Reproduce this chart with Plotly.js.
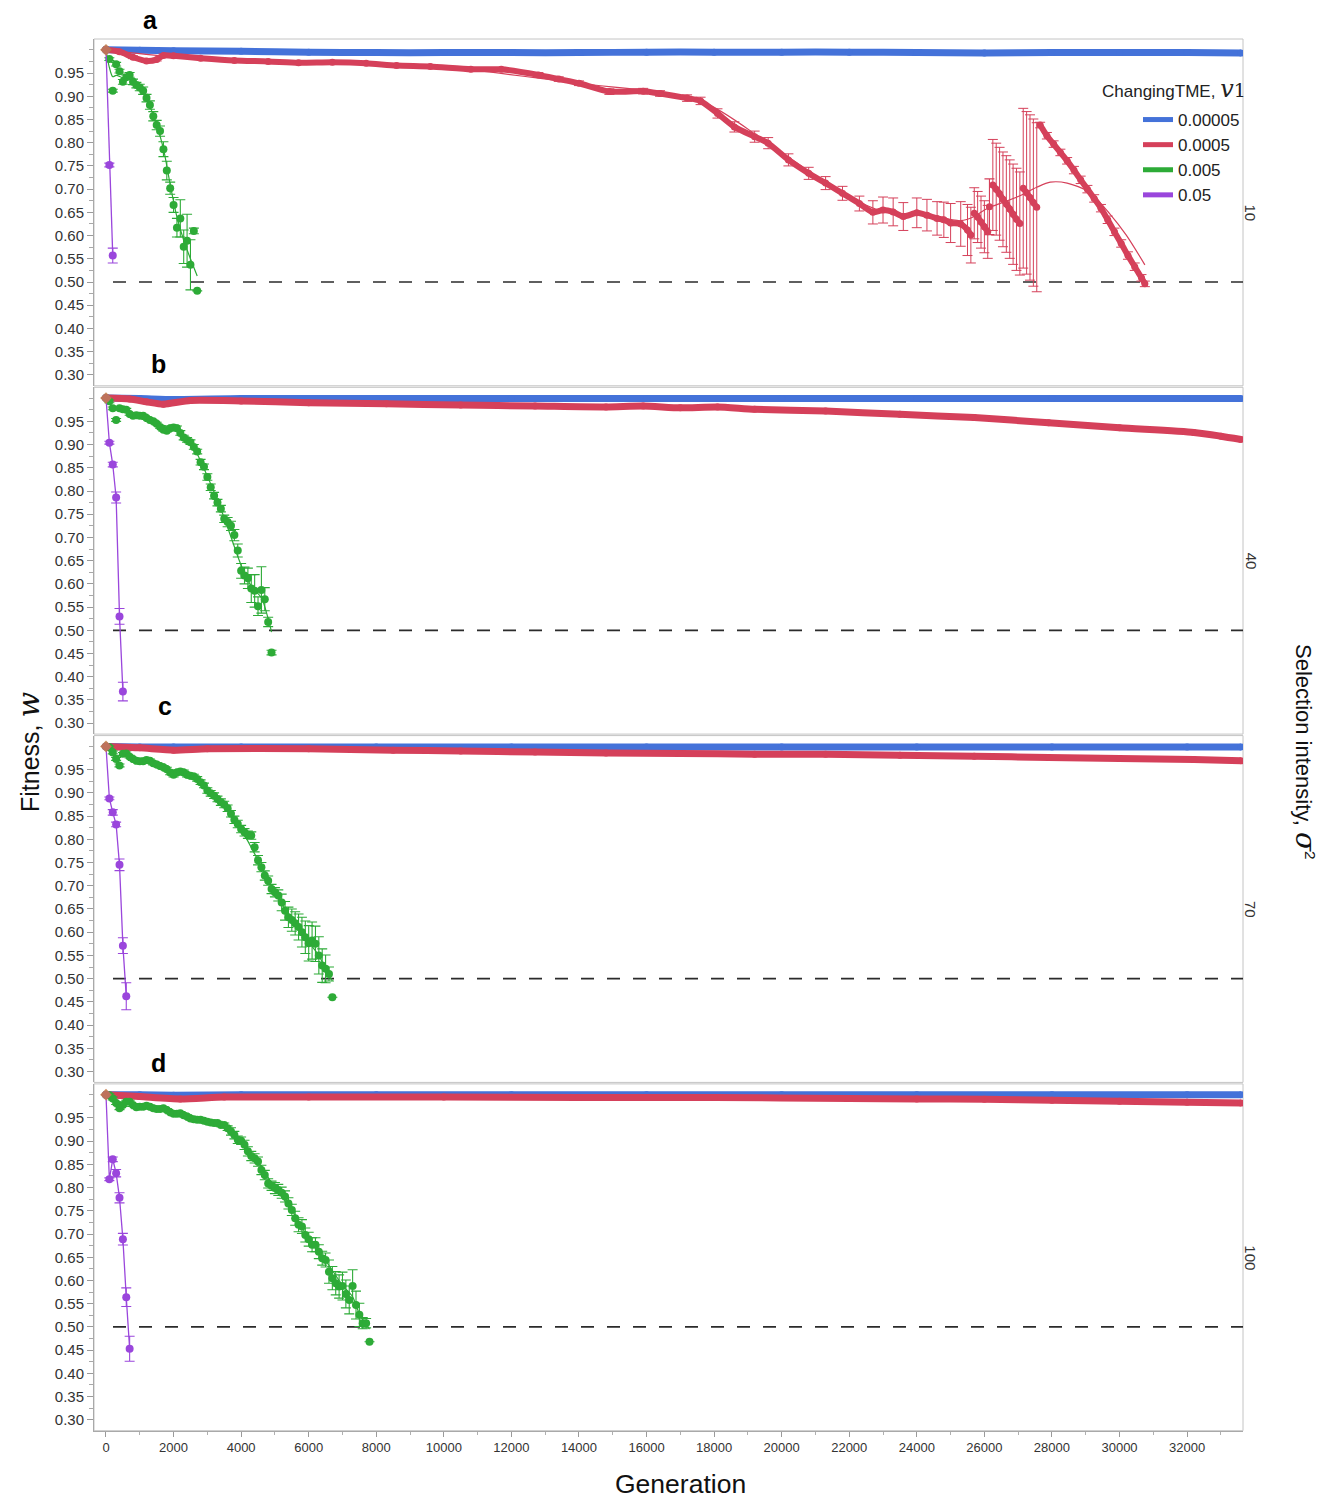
<!DOCTYPE html>
<html>
<head>
<meta charset="utf-8">
<script src="https://cdn.plot.ly/plotly-3.0.1.min.js"></script>
<style>
html, body { margin: 0; padding: 0; background: #ffffff; }
#chart { width: 1339px; height: 1501px; }
</style>
</head>
<body>
<div id="chart"></div>
<script>
// ---------- Fitness trajectories, four selection intensities (σ² = 10, 40, 70, 100) ----------

const LEGEND_LABELS = ['0.00005', '0.0005', '0.005', '0.05'];
const FACET_LABELS = ['10', '40', '70', '100'];
const PANEL_LETTERS = ['a', 'b', 'c', 'd'];
const Y_TICKS = [0.30, 0.35, 0.40, 0.45, 0.50, 0.55, 0.60, 0.65, 0.70, 0.75, 0.80, 0.85, 0.90, 0.95];
const Y_TICK_TEXT = ['0.30', '0.35', '0.40', '0.45', '0.50', '0.55', '0.60', '0.65', '0.70', '0.75', '0.80', '0.85', '0.90', '0.95'];
const THRESHOLD = 0.5;

// common starting state of every run
const START_GEN = [0];
const START_VAL = [1.0];

// ----- panel a (σ² = 10) -----
const A_BLUE_GEN = [0, 1000, 2000, 4000, 6000, 8000, 10000, 12000, 14000, 16000, 18000, 20000, 22000, 24000, 26000, 28000, 30000, 32000, 33600];
const A_BLUE_VAL = [1.000, 0.999, 0.998, 0.997, 0.995, 0.994, 0.994, 0.994, 0.994, 0.995, 0.995, 0.995, 0.995, 0.994, 0.993, 0.994, 0.994, 0.994, 0.993];

const A_RED_GEN = [0, 400, 800, 1200, 1500, 1700, 2000, 2800, 3800, 4800, 5700, 6700, 7700, 8600, 9600, 10800, 11700, 12800, 13400, 14000, 14900, 15900, 16400, 17200, 17600, 18100, 18600, 19200, 19600, 20200, 20800, 21300, 21800, 22300, 22700, 23000, 23300, 23600, 24000, 24300, 24600, 24800, 25000, 25300, 25500, 25600];
const A_RED_VAL = [1.000, 0.996, 0.984, 0.976, 0.979, 0.988, 0.987, 0.982, 0.977, 0.975, 0.972, 0.973, 0.971, 0.966, 0.964, 0.958, 0.958, 0.946, 0.937, 0.928, 0.910, 0.911, 0.906, 0.896, 0.890, 0.863, 0.834, 0.813, 0.799, 0.763, 0.734, 0.713, 0.691, 0.669, 0.650, 0.655, 0.651, 0.641, 0.649, 0.644, 0.637, 0.634, 0.627, 0.625, 0.612, 0.601];
const A_RED_ERR = [0, 0.002, 0.003, 0.003, 0.003, 0.003, 0.003, 0.003, 0.003, 0.003, 0.003, 0.003, 0.003, 0.003, 0.004, 0.004, 0.004, 0.005, 0.005, 0.005, 0.006, 0.006, 0.006, 0.007, 0.008, 0.010, 0.011, 0.012, 0.012, 0.013, 0.013, 0.014, 0.015, 0.016, 0.025, 0.028, 0.030, 0.030, 0.032, 0.034, 0.036, 0.038, 0.042, 0.048, 0.055, 0.060];

const A_RED_S2_GEN = [25700, 25800, 25900, 26000, 26100];
const A_RED_S2_VAL = [0.648, 0.640, 0.629, 0.619, 0.608];
const A_RED_S2_ERR = [0.055, 0.055, 0.056, 0.056, 0.057];
const A_RED_DOT_GEN = [26150];
const A_RED_DOT_VAL = [0.662];
const A_RED_DOT_ERR = [0.060];
const A_RED_S3_GEN = [26250, 26350, 26450, 26550, 26650, 26750, 26850, 26950, 27050];
const A_RED_S3_VAL = [0.709, 0.700, 0.690, 0.678, 0.668, 0.657, 0.646, 0.635, 0.626];
const A_RED_S3_ERR = [0.098, 0.099, 0.100, 0.102, 0.104, 0.106, 0.108, 0.110, 0.111];
const A_RED_S4_GEN = [27150, 27250, 27350, 27450, 27550];
const A_RED_S4_VAL = [0.702, 0.692, 0.682, 0.671, 0.661];
const A_RED_S4_ERR = [0.172, 0.175, 0.178, 0.180, 0.182];
const A_RED_S5_GEN = [27650, 27850, 28050, 28250, 28450, 28650, 28850, 29050, 29250, 29450, 29650, 29850, 30050, 30250, 30450, 30650, 30750];
const A_RED_S5_VAL = [0.838, 0.815, 0.797, 0.779, 0.761, 0.741, 0.720, 0.700, 0.680, 0.659, 0.634, 0.608, 0.583, 0.557, 0.533, 0.509, 0.496];
const A_RED_S5_ERR = [0.006, 0.007, 0.007, 0.007, 0.007, 0.008, 0.008, 0.008, 0.008, 0.008, 0.008, 0.008, 0.008, 0.008, 0.008, 0.007, 0.006];

const A_RED_FIT_GEN = [0, 2000, 6000, 10000, 14000, 17600, 19600, 21800, 23000, 24300, 25300, 25700, 26000, 26200, 27000, 27550, 27950, 28450, 29100, 29700, 30200, 30750];
const A_RED_FIT_VAL = [1.000, 0.985, 0.973, 0.962, 0.928, 0.890, 0.799, 0.691, 0.652, 0.644, 0.632, 0.641, 0.655, 0.662, 0.684, 0.704, 0.715, 0.713, 0.694, 0.648, 0.601, 0.537];

const A_GREEN_GEN = [0, 100, 200, 300, 400, 500, 600, 700, 800, 900, 1000, 1100, 1200, 1300, 1400, 1500, 1600, 1700, 1800, 1900, 2000, 2100, 2200, 2300, 2400, 2500, 2600, 2700];
const A_GREEN_VAL = [1.000, 0.980, 0.912, 0.969, 0.954, 0.931, 0.941, 0.946, 0.931, 0.924, 0.919, 0.912, 0.896, 0.881, 0.857, 0.838, 0.825, 0.786, 0.740, 0.702, 0.666, 0.617, 0.637, 0.576, 0.589, 0.537, 0.610, 0.481];
const A_GREEN_ERR = [0, 0.003, 0.003, 0.004, 0.004, 0.005, 0.005, 0.005, 0.006, 0.006, 0.007, 0.008, 0.008, 0.009, 0.010, 0.010, 0.011, 0.016, 0.020, 0.013, 0.016, 0.020, 0.040, 0.036, 0.057, 0.054, 0.006, 0];
const A_GREEN_FIT_GEN = [0, 100, 200, 300, 500, 700, 900, 1100, 1300, 1500, 1700, 1900, 2100, 2300, 2500, 2700];
const A_GREEN_FIT_VAL = [1.000, 0.962, 0.942, 0.945, 0.940, 0.937, 0.925, 0.908, 0.878, 0.838, 0.787, 0.710, 0.640, 0.590, 0.550, 0.513];

const A_PURPLE_GEN = [0, 100, 200];
const A_PURPLE_VAL = [1.000, 0.752, 0.557];
const A_PURPLE_ERR = [0, 0.004, 0.016];

// ----- panel b (σ² = 40) -----
const B_BLUE_GEN = [0, 1000, 2000, 4000, 8000, 12000, 16000, 20000, 24000, 28000, 32000, 33600];
const B_BLUE_VAL = [1.000, 0.999, 0.997, 0.999, 0.999, 0.999, 0.999, 0.999, 0.999, 0.999, 0.999, 0.999];

const B_RED_GEN = [0, 700, 1200, 1700, 2500, 4000, 6000, 8300, 10500, 12700, 14800, 15900, 17000, 18100, 19200, 21300, 23500, 25700, 27900, 30000, 32200, 33000, 33600];
const B_RED_VAL = [1.000, 0.998, 0.992, 0.987, 0.995, 0.994, 0.990, 0.988, 0.985, 0.983, 0.981, 0.983, 0.979, 0.981, 0.976, 0.972, 0.965, 0.958, 0.947, 0.936, 0.926, 0.918, 0.911];

const B_GREEN_GEN = [0, 100, 200, 300, 400, 500, 600, 700, 800, 900, 1000, 1100, 1200, 1300, 1400, 1500, 1600, 1700, 1800, 1900, 2000, 2100, 2200, 2300, 2400, 2500, 2600, 2700, 2800, 2900, 3000, 3100, 3200, 3300, 3400, 3500, 3600, 3700, 3800, 3900, 4000, 4100, 4200, 4300, 4400, 4500, 4600, 4700, 4800, 4900];
const B_GREEN_VAL = [1.000, 0.993, 0.978, 0.953, 0.978, 0.976, 0.975, 0.966, 0.962, 0.963, 0.962, 0.962, 0.957, 0.953, 0.950, 0.945, 0.938, 0.932, 0.930, 0.935, 0.937, 0.935, 0.925, 0.915, 0.910, 0.905, 0.895, 0.885, 0.862, 0.852, 0.830, 0.808, 0.790, 0.775, 0.762, 0.740, 0.733, 0.725, 0.705, 0.672, 0.628, 0.618, 0.612, 0.590, 0.585, 0.552, 0.587, 0.567, 0.518, 0.452];
const B_GREEN_ERR = [0, 0.003, 0.003, 0.003, 0.003, 0.003, 0.003, 0.003, 0.003, 0.003, 0.003, 0.003, 0.003, 0.003, 0.003, 0.003, 0.003, 0.003, 0.003, 0.003, 0.005, 0.005, 0.005, 0.005, 0.005, 0.005, 0.005, 0.005, 0.006, 0.006, 0.007, 0.007, 0.007, 0.007, 0.007, 0.008, 0.010, 0.010, 0.012, 0.014, 0.016, 0.018, 0.022, 0.030, 0.035, 0.020, 0.050, 0.025, 0.010, 0.005];
const B_GREEN_FIT_GEN = [0, 200, 500, 1000, 1500, 2000, 2500, 3000, 3500, 4000, 4300, 4600, 4800, 4900];
const B_GREEN_FIT_VAL = [1.000, 0.982, 0.975, 0.962, 0.945, 0.935, 0.905, 0.832, 0.742, 0.640, 0.595, 0.570, 0.525, 0.496];

const B_PURPLE_GEN = [0, 100, 200, 300, 400, 500];
const B_PURPLE_VAL = [1.000, 0.904, 0.857, 0.786, 0.530, 0.368];
const B_PURPLE_ERR = [0, 0.003, 0.005, 0.012, 0.017, 0.020];

// ----- panel c (σ² = 70) -----
const C_BLUE_GEN = [0, 1000, 2000, 4000, 8000, 12000, 16000, 20000, 24000, 28000, 32000, 33600];
const C_BLUE_VAL = [1.000, 0.999, 0.999, 0.999, 0.999, 0.999, 0.999, 0.999, 0.999, 0.999, 0.999, 0.999];

const C_RED_GEN = [0, 1000, 2000, 3000, 6000, 8500, 10500, 12700, 14800, 17000, 19200, 21300, 23500, 25700, 27900, 30000, 32200, 33600];
const C_RED_VAL = [1.000, 0.997, 0.992, 0.995, 0.995, 0.992, 0.990, 0.988, 0.986, 0.985, 0.983, 0.983, 0.981, 0.979, 0.976, 0.974, 0.972, 0.969];

const C_GREEN_GEN = [0, 100, 200, 300, 400, 500, 600, 700, 800, 900, 1000, 1100, 1200, 1300, 1400, 1500, 1600, 1700, 1800, 1900, 2000, 2100, 2200, 2300, 2400, 2500, 2600, 2700, 2800, 2900, 3000, 3100, 3200, 3300, 3400, 3500, 3600, 3700, 3800, 3900, 4000, 4100, 4200, 4300, 4400, 4500, 4600, 4700, 4800, 4900, 5000, 5100, 5200, 5300, 5400, 5500, 5600, 5700, 5800, 5900, 6000, 6100, 6200, 6300, 6400, 6500, 6600, 6700];
const C_GREEN_VAL = [1.000, 0.998, 0.987, 0.973, 0.959, 0.984, 0.985, 0.978, 0.973, 0.969, 0.968, 0.968, 0.971, 0.969, 0.964, 0.961, 0.958, 0.955, 0.951, 0.944, 0.939, 0.944, 0.946, 0.944, 0.939, 0.937, 0.935, 0.930, 0.923, 0.916, 0.905, 0.899, 0.894, 0.887, 0.880, 0.875, 0.867, 0.855, 0.842, 0.833, 0.822, 0.815, 0.810, 0.808, 0.783, 0.755, 0.740, 0.722, 0.711, 0.693, 0.686, 0.679, 0.664, 0.646, 0.632, 0.626, 0.619, 0.611, 0.600, 0.589, 0.576, 0.582, 0.575, 0.550, 0.528, 0.521, 0.510, 0.460];
const C_GREEN_ERR = [0, 0.003, 0.003, 0.003, 0.003, 0.003, 0.003, 0.003, 0.003, 0.003, 0.003, 0.004, 0.004, 0.004, 0.004, 0.004, 0.004, 0.004, 0.004, 0.005, 0.005, 0.005, 0.005, 0.005, 0.005, 0.005, 0.005, 0.005, 0.005, 0.005, 0.006, 0.006, 0.006, 0.006, 0.007, 0.007, 0.007, 0.007, 0.008, 0.008, 0.008, 0.008, 0.008, 0.008, 0.010, 0.010, 0.010, 0.010, 0.010, 0.010, 0.010, 0.012, 0.018, 0.020, 0.022, 0.024, 0.025, 0.028, 0.032, 0.035, 0.038, 0.040, 0.038, 0.040, 0.036, 0.030, 0.015, 0];
const C_GREEN_FIT_GEN = [0, 300, 600, 1000, 1500, 2000, 2500, 3000, 3500, 4000, 4500, 5000, 5500, 6000, 6300, 6500, 6700];
const C_GREEN_FIT_VAL = [1.000, 0.980, 0.982, 0.968, 0.961, 0.942, 0.937, 0.905, 0.875, 0.822, 0.755, 0.686, 0.626, 0.578, 0.550, 0.520, 0.495];

const C_PURPLE_GEN = [0, 100, 200, 300, 400, 500, 600];
const C_PURPLE_VAL = [1.000, 0.888, 0.858, 0.832, 0.745, 0.571, 0.462];
const C_PURPLE_ERR = [0, 0.003, 0.006, 0.005, 0.0125, 0.017, 0.029];

// ----- panel d (σ² = 100) -----
const D_BLUE_GEN = [0, 1000, 2000, 4000, 8000, 12000, 16000, 20000, 24000, 28000, 32000, 33600];
const D_BLUE_VAL = [1.000, 1.000, 0.999, 1.000, 1.000, 1.000, 1.000, 1.000, 1.000, 1.000, 1.000, 1.000];

const D_RED_GEN = [0, 1000, 2200, 3500, 6000, 10000, 14000, 18000, 22000, 24000, 26000, 28000, 30000, 32000, 33600];
const D_RED_VAL = [1.000, 0.996, 0.991, 0.995, 0.995, 0.995, 0.994, 0.994, 0.992, 0.991, 0.990, 0.988, 0.986, 0.984, 0.982];

const D_GREEN_GEN = [0, 100, 200, 300, 400, 500, 600, 700, 800, 900, 1000, 1100, 1200, 1300, 1400, 1500, 1600, 1700, 1800, 1900, 2000, 2100, 2200, 2300, 2400, 2500, 2600, 2700, 2800, 2900, 3000, 3100, 3200, 3300, 3400, 3500, 3600, 3700, 3800, 3900, 4000, 4100, 4200, 4300, 4400, 4500, 4600, 4700, 4800, 4900, 5000, 5100, 5200, 5300, 5400, 5500, 5600, 5700, 5800, 5900, 6000, 6100, 6200, 6300, 6400, 6500, 6600, 6700, 6800, 6900, 7000, 7100, 7200, 7300, 7400, 7500, 7600, 7700, 7800];
const D_GREEN_VAL = [1.000, 0.999, 0.992, 0.982, 0.971, 0.978, 0.985, 0.985, 0.978, 0.973, 0.974, 0.974, 0.976, 0.974, 0.971, 0.969, 0.969, 0.971, 0.967, 0.962, 0.959, 0.959, 0.960, 0.956, 0.953, 0.949, 0.947, 0.946, 0.946, 0.944, 0.942, 0.940, 0.939, 0.939, 0.935, 0.935, 0.928, 0.921, 0.913, 0.903, 0.901, 0.892, 0.878, 0.868, 0.863, 0.856, 0.838, 0.827, 0.809, 0.804, 0.799, 0.795, 0.789, 0.781, 0.766, 0.752, 0.734, 0.720, 0.716, 0.698, 0.689, 0.677, 0.677, 0.662, 0.648, 0.644, 0.619, 0.605, 0.594, 0.587, 0.588, 0.571, 0.558, 0.588, 0.547, 0.526, 0.508, 0.508, 0.468];
const D_GREEN_ERR = [0, 0.003, 0.003, 0.003, 0.003, 0.003, 0.003, 0.003, 0.003, 0.003, 0.003, 0.003, 0.003, 0.003, 0.003, 0.003, 0.003, 0.003, 0.003, 0.003, 0.004, 0.004, 0.004, 0.004, 0.004, 0.004, 0.004, 0.004, 0.004, 0.004, 0.004, 0.004, 0.004, 0.004, 0.004, 0.004, 0.005, 0.008, 0.008, 0.008, 0.008, 0.010, 0.010, 0.010, 0.010, 0.010, 0.010, 0.010, 0.010, 0.010, 0.012, 0.012, 0.012, 0.012, 0.012, 0.012, 0.015, 0.015, 0.015, 0.015, 0.015, 0.015, 0.015, 0.015, 0.015, 0.015, 0.025, 0.025, 0.025, 0.025, 0.030, 0.030, 0.030, 0.035, 0.030, 0.025, 0.012, 0.010, 0];
const D_GREEN_FIT_GEN = [0, 300, 600, 1000, 1500, 2000, 2500, 3000, 3500, 4000, 4500, 5000, 5500, 6000, 6500, 7000, 7300, 7500, 7700, 7800];
const D_GREEN_FIT_VAL = [1.000, 0.984, 0.984, 0.975, 0.969, 0.959, 0.949, 0.942, 0.934, 0.900, 0.855, 0.800, 0.752, 0.690, 0.643, 0.590, 0.565, 0.528, 0.505, 0.495];

const D_PURPLE_GEN = [0, 100, 200, 300, 400, 500, 600, 700];
const D_PURPLE_VAL = [1.000, 0.818, 0.861, 0.831, 0.778, 0.689, 0.564, 0.453];
const D_PURPLE_ERR = [0, 0.003, 0.005, 0.008, 0.011, 0.0125, 0.020, 0.027];

// ---------- styling ----------
const COLORS = ['#4472D9', '#D5405A', '#2DAB37', '#9A46DC'];   // blue, red, green, purple
const START_COLOR = '#C47A45';
const SANS = 'Liberation Sans, Arial, Helvetica, sans-serif';

// Panel geometry (pixels); plot area spans 94..1243 horizontally, 39..1431 vertically
const FIG_W = 1339, FIG_H = 1501;
const M = { l: 94, r: 96, t: 39, b: 70 };
const PLOT_H = FIG_H - M.t - M.b;
const PLOT_W = FIG_W - M.l - M.r;
const PANEL_PITCH = 348.3, PANEL_H = 346.8;
const Y_RANGE = [0.2765, 1.0233];
const X_RANGE = [-355, 33655];

const px2paperX = px => (px - M.l) / PLOT_W;
const px2paperY = py => (M.t + PLOT_H - py) / PLOT_H;

const YREFS = ['y', 'y2', 'y3', 'y4'];
const traces = [];

function band(yref, gen, val, err, color, width) {
  const t = {
    x: gen, y: val, xaxis: 'x', yaxis: yref, type: 'scatter', mode: 'lines+markers',
    line: { color: color, width: width || 6, shape: 'spline', smoothing: 0.6 },
    marker: { color: color, size: 7 },
    showlegend: false, hoverinfo: 'skip'
  };
  if (err) t.error_y = { type: 'data', array: err, visible: true, color: color, thickness: 1, width: 5 };
  return t;
}
function dots(yref, gen, val, err, color, size) {
  return {
    x: gen, y: val, xaxis: 'x', yaxis: yref, type: 'scatter', mode: 'markers',
    marker: { color: color, size: size || 8 },
    error_y: { type: 'data', array: err, visible: true, color: color, thickness: 1.1, width: 5 },
    showlegend: false, hoverinfo: 'skip'
  };
}
function thin(yref, gen, val, color) {
  return {
    x: gen, y: val, xaxis: 'x', yaxis: yref, type: 'scatter', mode: 'lines',
    line: { color: color, width: 1.2, shape: 'spline', smoothing: 0.8 },
    showlegend: false, hoverinfo: 'skip'
  };
}
function linked(yref, gen, val, err, color) {
  return {
    x: gen, y: val, xaxis: 'x', yaxis: yref, type: 'scatter', mode: 'lines+markers',
    line: { color: color, width: 1.3 },
    marker: { color: color, size: 8 },
    error_y: { type: 'data', array: err, visible: true, color: color, thickness: 1.1, width: 5 },
    showlegend: false, hoverinfo: 'skip'
  };
}
function start(yref) {
  return {
    x: START_GEN, y: START_VAL, xaxis: 'x', yaxis: yref, type: 'scatter', mode: 'markers',
    marker: { color: START_COLOR, size: 9, symbol: 'diamond', opacity: 0.85 },
    showlegend: false, hoverinfo: 'skip'
  };
}

// panel a
traces.push(band('y', A_BLUE_GEN, A_BLUE_VAL, null, COLORS[0], 7));
traces.push(thin('y', A_RED_FIT_GEN, A_RED_FIT_VAL, COLORS[1]));
traces.push(band('y', A_RED_GEN, A_RED_VAL, A_RED_ERR, COLORS[1]));
traces.push(band('y', A_RED_S2_GEN, A_RED_S2_VAL, A_RED_S2_ERR, COLORS[1]));
traces.push(dots('y', A_RED_DOT_GEN, A_RED_DOT_VAL, A_RED_DOT_ERR, COLORS[1], 7));
traces.push(band('y', A_RED_S3_GEN, A_RED_S3_VAL, A_RED_S3_ERR, COLORS[1]));
traces.push(band('y', A_RED_S4_GEN, A_RED_S4_VAL, A_RED_S4_ERR, COLORS[1]));
traces.push(band('y', A_RED_S5_GEN, A_RED_S5_VAL, A_RED_S5_ERR, COLORS[1]));
traces.push(thin('y', A_GREEN_FIT_GEN, A_GREEN_FIT_VAL, COLORS[2]));
traces.push(dots('y', A_GREEN_GEN, A_GREEN_VAL, A_GREEN_ERR, COLORS[2]));
traces.push(linked('y', A_PURPLE_GEN, A_PURPLE_VAL, A_PURPLE_ERR, COLORS[3]));

// panel b
traces.push(band('y2', B_BLUE_GEN, B_BLUE_VAL, null, COLORS[0], 7));
traces.push(band('y2', B_RED_GEN, B_RED_VAL, null, COLORS[1], 7));
traces.push(thin('y2', B_GREEN_FIT_GEN, B_GREEN_FIT_VAL, COLORS[2]));
traces.push(dots('y2', B_GREEN_GEN, B_GREEN_VAL, B_GREEN_ERR, COLORS[2]));
traces.push(linked('y2', B_PURPLE_GEN, B_PURPLE_VAL, B_PURPLE_ERR, COLORS[3]));

// panel c
traces.push(band('y3', C_BLUE_GEN, C_BLUE_VAL, null, COLORS[0], 7));
traces.push(band('y3', C_RED_GEN, C_RED_VAL, null, COLORS[1], 7));
traces.push(thin('y3', C_GREEN_FIT_GEN, C_GREEN_FIT_VAL, COLORS[2]));
traces.push(dots('y3', C_GREEN_GEN, C_GREEN_VAL, C_GREEN_ERR, COLORS[2]));
traces.push(linked('y3', C_PURPLE_GEN, C_PURPLE_VAL, C_PURPLE_ERR, COLORS[3]));

// panel d
traces.push(band('y4', D_BLUE_GEN, D_BLUE_VAL, null, COLORS[0], 7));
traces.push(band('y4', D_RED_GEN, D_RED_VAL, null, COLORS[1], 7));
traces.push(thin('y4', D_GREEN_FIT_GEN, D_GREEN_FIT_VAL, COLORS[2]));
traces.push(dots('y4', D_GREEN_GEN, D_GREEN_VAL, D_GREEN_ERR, COLORS[2]));
traces.push(linked('y4', D_PURPLE_GEN, D_PURPLE_VAL, D_PURPLE_ERR, COLORS[3]));

// shared starting point, drawn over every panel's series
YREFS.forEach(yr => traces.push(start(yr)));

// legend entries (one per ChangingTME level)
LEGEND_LABELS.forEach((lab, i) => {
  traces.push({
    x: [null], y: [null], xaxis: 'x', yaxis: 'y', type: 'scatter', mode: 'lines',
    name: lab, line: { color: COLORS[i], width: 5 }, showlegend: true, hoverinfo: 'skip'
  });
});

// ---------- axes ----------
function yAxis(i) {
  const top = 1 - (i * PANEL_PITCH) / PLOT_H;
  const bottom = Math.max(0, top - PANEL_H / PLOT_H);
  return {
    domain: [bottom, top], range: Y_RANGE, anchor: 'x',
    tickmode: 'array', tickvals: Y_TICKS, ticktext: Y_TICK_TEXT,
    ticks: 'outside', ticklen: 6, tickwidth: 1, tickcolor: '#9a9a9a',
    tickfont: { family: SANS, size: 15, color: '#333333' },
    minor: { tickmode: 'linear', tick0: 0.275, dtick: 0.025, ticks: 'outside', ticklen: 4, tickcolor: '#a8a8a8', showgrid: false },
    showline: true, linecolor: '#a9a9a9', linewidth: 1,
    showgrid: false, zeroline: false, fixedrange: true
  };
}

const shapes = [];
const annotations = [];

YREFS.forEach((yr, i) => {
  // panel frame
  shapes.push({
    type: 'rect', xref: 'paper', yref: yr + ' domain', x0: 0, x1: 1, y0: 0, y1: 1,
    line: { color: '#c4c4c4', width: 1 }, fillcolor: 'rgba(0,0,0,0)', layer: 'below'
  });
  // w = 0.5 reference line
  shapes.push({
    type: 'line', xref: 'paper', yref: yr, x0: px2paperX(113), x1: 1, y0: THRESHOLD, y1: THRESHOLD,
    line: { color: '#2b2b2b', width: 1.7, dash: '13px,13px' }, layer: 'below'
  });
  const top = M.t + i * PANEL_PITCH;
  // σ² facet label on the right
  annotations.push({
    xref: 'paper', yref: 'paper', x: px2paperX(1251), y: px2paperY(top + PANEL_H / 2),
    text: FACET_LABELS[i], showarrow: false, textangle: 90,
    xanchor: 'center', yanchor: 'middle',
    font: { family: SANS, size: 15, color: '#333333' }
  });
});

// panel letters
const LETTER_POS = [[150, 20], [158, 364], [165, 706], [158, 1063]];
PANEL_LETTERS.forEach((l, i) => {
  annotations.push({
    xref: 'paper', yref: 'paper', x: px2paperX(LETTER_POS[i][0]), y: px2paperY(LETTER_POS[i][1]),
    text: '<b>' + l + '</b>', showarrow: false, xanchor: 'center', yanchor: 'middle',
    font: { family: SANS, size: 25, color: '#000000' }
  });
});

// axis titles
annotations.push({
  xref: 'paper', yref: 'paper', x: px2paperX(680), y: px2paperY(1484),
  text: 'Generation', showarrow: false, xanchor: 'center', yanchor: 'middle',
  font: { family: SANS, size: 26.5, color: '#111111' }
});
annotations.push({
  xref: 'paper', yref: 'paper', x: px2paperX(28), y: px2paperY(752),
  text: 'Fitness, <span style="font-family:DejaVu Serif;font-style:italic;font-size:30px">w</span>',
  showarrow: false, textangle: -90, xanchor: 'center', yanchor: 'middle',
  font: { family: SANS, size: 25, color: '#111111' }
});
annotations.push({
  xref: 'paper', yref: 'paper', x: px2paperX(1306), y: px2paperY(752),
  text: 'Selection intensity, <span style="font-family:DejaVu Serif;font-style:italic;font-size:28px">σ</span><sup>2</sup>',
  showarrow: false, textangle: 90, xanchor: 'center', yanchor: 'middle',
  font: { family: SANS, size: 22, color: '#111111' }
});
// legend heading
annotations.push({
  xref: 'paper', yref: 'paper', x: px2paperX(1100), y: px2paperY(89),
  text: 'ChangingTME, <span style="font-family:DejaVu Serif;font-style:italic;font-size:24px">v</span><span style="font-family:DejaVu Serif;font-size:19px">1</span>',
  showarrow: false, xanchor: 'left', yanchor: 'middle',
  font: { family: SANS, size: 17, color: '#222222' }
});

const layout = {
  width: FIG_W, height: FIG_H,
  margin: M,
  paper_bgcolor: '#ffffff', plot_bgcolor: '#ffffff',
  font: { family: SANS, color: '#222222' },
  showlegend: true,
  legend: {
    x: px2paperX(1138), y: px2paperY(102), xanchor: 'left', yanchor: 'top',
    bgcolor: 'rgba(0,0,0,0)', borderwidth: 0,
    font: { family: SANS, size: 17, color: '#222222' },
    itemwidth: 30, tracegroupgap: 0, traceorder: 'normal'
  },
  xaxis: {
    range: X_RANGE, anchor: 'y4',
    tickmode: 'linear', tick0: 0, dtick: 2000, tickformat: 'd',
    ticks: 'outside', ticklen: 5, tickwidth: 1, tickcolor: '#9a9a9a',
    tickfont: { family: SANS, size: 13, color: '#333333' },
    minor: { tickmode: 'linear', tick0: 0, dtick: 1000, ticks: 'outside', ticklen: 3, tickcolor: '#b0b0b0', showgrid: false },
    showline: true, linecolor: '#a9a9a9', linewidth: 1,
    showgrid: false, zeroline: false, fixedrange: true
  },
  yaxis: yAxis(0), yaxis2: yAxis(1), yaxis3: yAxis(2), yaxis4: yAxis(3),
  shapes: shapes,
  annotations: annotations
};

Plotly.newPlot('chart', traces, layout, { staticPlot: true, displayModeBar: false });
</script>
</body>
</html>
